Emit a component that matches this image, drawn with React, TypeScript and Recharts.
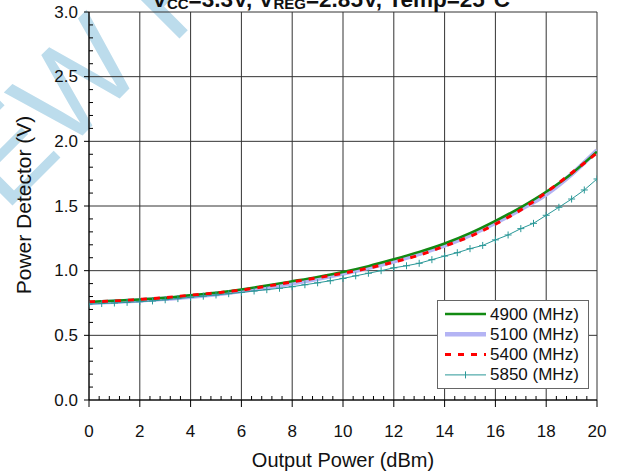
import React from 'react';
import { LineChart, Line, XAxis, YAxis, CartesianGrid, Legend, Label } from 'recharts';

const FONT = '"Liberation Sans", Arial, sans-serif';

// output power (dBm) steps of the three smooth sweeps
const powerSteps = [0, 1, 2, 3, 4, 5, 6, 7, 8, 9, 10, 11, 12, 13, 14, 15, 16, 17, 18, 19, 20];
// the 5850 MHz sweep was sampled every 0.5 dBm
const fineSteps = [
  0, 0.5, 1, 1.5, 2, 2.5, 3, 3.5, 4, 4.5, 5, 5.5, 6, 6.5, 7, 7.5, 8, 8.5, 9, 9.5, 10,
  10.5, 11, 11.5, 12, 12.5, 13, 13.5, 14, 14.5, 15, 15.5, 16, 16.5, 17, 17.5, 18, 18.5, 19, 19.5, 20,
];

// detector voltage (V)
const v4900 = [0.758, 0.768, 0.778, 0.79, 0.81, 0.83, 0.855, 0.885, 0.918, 0.952, 0.99, 1.035, 1.088, 1.145, 1.21, 1.29, 1.385, 1.49, 1.61, 1.75, 1.92];
const v5100 = [0.75, 0.76, 0.77, 0.782, 0.798, 0.817, 0.842, 0.87, 0.902, 0.937, 0.977, 1.022, 1.072, 1.13, 1.195, 1.275, 1.37, 1.475, 1.59, 1.745, 1.93];
const v5400 = [0.76, 0.765, 0.778, 0.792, 0.81, 0.828, 0.85, 0.88, 0.913, 0.945, 0.98, 1.02, 1.067, 1.12, 1.19, 1.265, 1.36, 1.47, 1.605, 1.755, 1.91];
const v5850 = [
  0.742, 0.746, 0.75, 0.755, 0.76, 0.766, 0.775, 0.784, 0.794, 0.803, 0.812, 0.822, 0.832, 0.843, 0.853, 0.864, 0.876, 0.891, 0.906, 0.922, 0.94,
  0.96, 0.98, 1.0, 1.022, 1.038, 1.057, 1.085, 1.113, 1.139, 1.17, 1.195, 1.238, 1.276, 1.325, 1.366, 1.428, 1.49, 1.554, 1.624, 1.709,
];

const xTicks = [0, 2, 4, 6, 8, 10, 12, 14, 16, 18, 20];
const yTicks = [0, 0.5, 1, 1.5, 2, 2.5, 3];
// minor ticks: 5 per major division
const xMinor = Array.from({ length: 51 }, (_, i) => +(i * 0.4).toFixed(1));
const yMinor = Array.from({ length: 31 }, (_, i) => +(i * 0.1).toFixed(1));

const isMajor = (v: number, list: number[]) => list.some((t) => Math.abs(t - v) < 1e-6);

const toRows = (xs: number[], ys: number[]) => xs.map((x, i) => ({ x, v: ys[i] }));

const SERIES = [
  { key: '4900', data: toRows(powerSteps, v4900), color: '#128a12', width: 2.5, dash: undefined as string | undefined },
  { key: '5100', data: toRows(powerSteps, v5100), color: '#b4b4f4', width: 4.5, dash: undefined },
  { key: '5400', data: toRows(powerSteps, v5400), color: '#ff0000', width: 3, dash: '6 7' },
  { key: '5850', data: toRows(fineSteps, v5850), color: '#2a9898', width: 1, dash: undefined },
];

const PlusDot = (props: any) => {
  const { cx, cy, index } = props;
  if (cx == null || cy == null) return null;
  return <path key={`p-${index}`} d={`M${cx - 3.5},${cy}h7M${cx},${cy - 3.5}v7`} stroke="#2a9898" strokeWidth={1} />;
};

// major ticks point out with a label, minor ticks point into the plot
const XTick = (props: any) => {
  const { x, y, payload } = props;
  const v = payload.value;
  if (!isMajor(v, xTicks)) return <line x1={x} x2={x} y1={y} y2={y - 4} stroke="#000" />;
  return (
    <g>
      <line x1={x} x2={x} y1={y} y2={y + 7} stroke="#000" />
      <text x={x} y={y + 31} textAnchor="middle" dominantBaseline="central" fontSize={17} fontFamily={FONT} fill="#111">
        {v}
      </text>
    </g>
  );
};

const YTick = (props: any) => {
  const { x, y, payload } = props;
  const v = payload.value;
  if (!isMajor(v, yTicks)) return <line x1={x} x2={x + 4} y1={y} y2={y} stroke="#000" />;
  return (
    <g>
      <line x1={x - 5} x2={x} y1={y} y2={y} stroke="#000" />
      <text x={x - 11} y={y} textAnchor="end" dominantBaseline="central" fontSize={17} fontFamily={FONT} fill="#111">
        {v.toFixed(1)}
      </text>
    </g>
  );
};

const renderLegend = () => (
  <div style={{ width: 150, height: 87, border: '1.5px solid #666', background: '#fff', fontFamily: FONT }}>
    <svg width={150} height={87}>
      {SERIES.map((s, i) => {
        const y = 13 + i * 20.3;
        return (
          <g key={s.key}>
            <line x1={7} x2={48} y1={y} y2={y} stroke={s.color} strokeWidth={s.width} strokeDasharray={s.dash} />
            {s.key === '5850' && <path d={`M27.5,${y - 3.5}v7`} stroke={s.color} strokeWidth={1} />}
            <text x={52} y={y} dominantBaseline="central" fontSize={17} fill="#111">
              {s.key} (MHz)
            </text>
          </g>
        );
      })}
    </svg>
  </div>
);

export default function App() {
  return (
    <div style={{ position: 'absolute', left: 0, top: 0, width: 618, height: 474, background: '#fff' }}>
      {/* watermark sits under the chart */}
      <svg width={618} height={474} style={{ position: 'absolute', left: 0, top: 0, pointerEvents: 'none' }}>
        <text x={-260} y={478} transform="rotate(-45 -260 478)" fontSize={125} fontFamily={FONT} fill="#bcdcec">
          PREVIEW PREVIEW
        </text>
      </svg>
      <div style={{ position: 'absolute', left: 0, top: 0 }}>
        <LineChart width={618} height={474} margin={{ top: 12, right: 21, bottom: 0, left: 0 }}>
          <CartesianGrid stroke="#333" strokeWidth={1} horizontalValues={yTicks} verticalValues={xTicks} />
          <XAxis
            type="number"
            dataKey="x"
            domain={[0, 20]}
            ticks={xMinor}
            interval={0}
            height={74}
            tickSize={0}
            tickMargin={0}
            tick={XTick}
            tickLine={false}
            axisLine={{ stroke: '#000' }}
            allowDataOverflow
          >
            <Label
              content={() => (
                <text x={343} y={460} textAnchor="middle" dominantBaseline="central" fontSize={20} fill="#111" fontFamily={FONT}>
                  Output Power (dBm)
                </text>
              )}
            />
          </XAxis>
          <YAxis
            type="number"
            domain={[0, 3]}
            ticks={yMinor}
            interval={0}
            width={89}
            tickSize={0}
            tickMargin={0}
            tick={YTick}
            tickLine={false}
            axisLine={{ stroke: '#000' }}
            allowDataOverflow
          >
            <Label
              content={() => (
                <text x={23} y={205} transform="rotate(-90 23 205)" textAnchor="middle" dominantBaseline="central" fontSize={21} fill="#111" fontFamily={FONT}>
                  Power Detector (V)
                </text>
              )}
            />
          </YAxis>
          {[SERIES[1], SERIES[0], SERIES[2], SERIES[3]].map((s) => (
            <Line
              key={s.key}
              data={s.data}
              dataKey="v"
              name={s.key}
              type={s.key === '5850' ? 'linear' : 'monotone'}
              stroke={s.color}
              strokeWidth={s.width}
              strokeDasharray={s.dash}
              dot={s.key === '5850' ? PlusDot : false}
              activeDot={false}
              isAnimationActive={false}
            />
          ))}
          <Legend
            content={renderLegend}
            layout="vertical"
            align="center"
            verticalAlign="middle"
            wrapperStyle={{ left: 437, top: 300, width: 153, height: 90 }}
          />
        </LineChart>
      </div>
      <svg width={618} height={474} style={{ position: 'absolute', left: 0, top: 0, pointerEvents: 'none' }}>
        <text x={331} y={6.5} textAnchor="middle" fontWeight="bold" fontSize={22.5} fontFamily={FONT} fill="#111">
          V<tspan dy={2} fontSize={15}>CC</tspan>
          <tspan dy={-2}>=3.3V, V</tspan>
          <tspan dy={2} fontSize={15}>REG</tspan>
          <tspan dy={-2}>=2.85V, Temp=25°C</tspan>
        </text>
      </svg>
    </div>
  );
}
